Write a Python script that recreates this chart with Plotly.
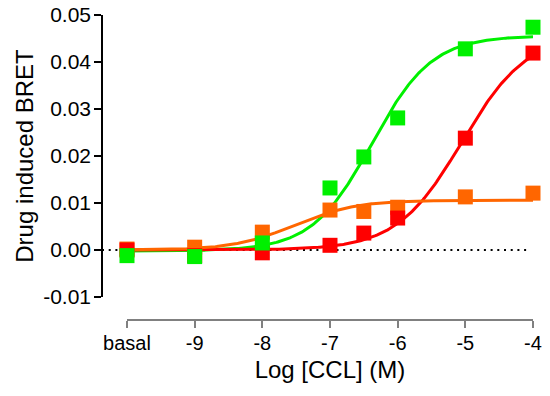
import numpy as np
import plotly.graph_objects as go

# ---- data ----
x_cats = [-10, -9, -8, -7, -6.5, -6, -5, -4]          # -10 = "basal"
green_y = [-0.0012, -0.0014, 0.0015, 0.0132, 0.0198, 0.0281, 0.0428, 0.0474]
red_y = [0.0000, -0.0012, -0.0006, 0.0010, 0.0036, 0.0068, 0.0238, 0.0419]
orange_y = [0.0002, 0.0006, 0.0038, 0.0085, 0.0082, 0.0091, 0.0113, 0.0121]

# four-parameter logistic fit parameters (bottom, top, logEC50, hill)
green_fit = (-0.0002, 0.0456, -6.38, 0.98)
red_fit = (0.0, 0.0460, -5.05, 0.90)
orange_fit = (0.0, 0.0106, -7.52, 0.97)

x_tickvals = [-10, -9, -8, -7, -6, -5, -4]
x_ticktext = ["basal", "-9", "-8", "-7", "-6", "-5", "-4"]
y_tickvals = [-0.01, 0.0, 0.01, 0.02, 0.03, 0.04, 0.05]
y_ticktext = ["-0.01", "0.00", "0.01", "0.02", "0.03", "0.04", "0.05"]

GREEN = "#00F000"
RED = "#FF0000"
ORANGE = "#FF6600"

xs = np.linspace(-10, -4, 300)


def logistic(p):
    b, t, ec, h = p
    return b + (t - b) / (1 + 10 ** ((ec - xs) * h))


fig = go.Figure()
for fit, col in [(green_fit, GREEN), (red_fit, RED), (orange_fit, ORANGE)]:
    fig.add_trace(go.Scatter(x=xs, y=logistic(fit), mode="lines",
                             line=dict(color=col, width=3), showlegend=False,
                             hoverinfo="skip", cliponaxis=False))
for ys, col in [(orange_y, ORANGE), (red_y, RED), (green_y, GREEN)]:
    fig.add_trace(go.Scatter(x=x_cats, y=ys, mode="markers",
                             marker=dict(symbol="square", size=15, color=col,
                                         line=dict(width=0)),
                             showlegend=False, cliponaxis=False))

# dotted zero line
fig.add_shape(type="line", xref="paper", yref="y", x0=0, x1=0.99, y0=0, y1=0,
              line=dict(color="black", width=2, dash="2px,4.7px"), layer="below")

FONT = "Liberation Sans, Arial, sans-serif"
fig.update_layout(
    width=550, height=396,
    margin=dict(l=102, r=17, t=15, b=76, autoexpand=False),
    paper_bgcolor="white", plot_bgcolor="white",
    font=dict(family=FONT, color="black"),
    xaxis=dict(domain=[0.058, 1], range=[-10, -4], anchor="free", position=0,
               tickvals=x_tickvals, ticktext=x_ticktext, automargin=False,
               showgrid=False, zeroline=False, showline=True,
               linecolor="#808080", linewidth=1.5,
               ticks="outside", ticklen=7, tickwidth=1.5, tickcolor="#808080",
               tickfont=dict(size=20, family=FONT), ticklabelstandoff=-2,
               title=dict(text="Log [CCL] (M)", font=dict(size=24, family=FONT),
                          standoff=7)),
    yaxis=dict(domain=[0.0754, 1], range=[-0.01, 0.05], anchor="free", position=0,
               tickvals=y_tickvals, ticktext=y_ticktext, automargin=False,
               showgrid=False, zeroline=False, showline=True,
               linecolor="black", linewidth=1.5,
               ticks="outside", ticklen=7, tickwidth=1.5, tickcolor="black",
               tickfont=dict(size=21, family=FONT), ticklabelstandoff=-1,
               title=dict(text="Drug induced BRET", font=dict(size=24, family=FONT),
                          standoff=2)),
)

fig.write_html("out.html", config={"displayModeBar": False},
               post_script="document.body.style.margin='0px';"
                           "document.body.style.overflow='hidden';")
